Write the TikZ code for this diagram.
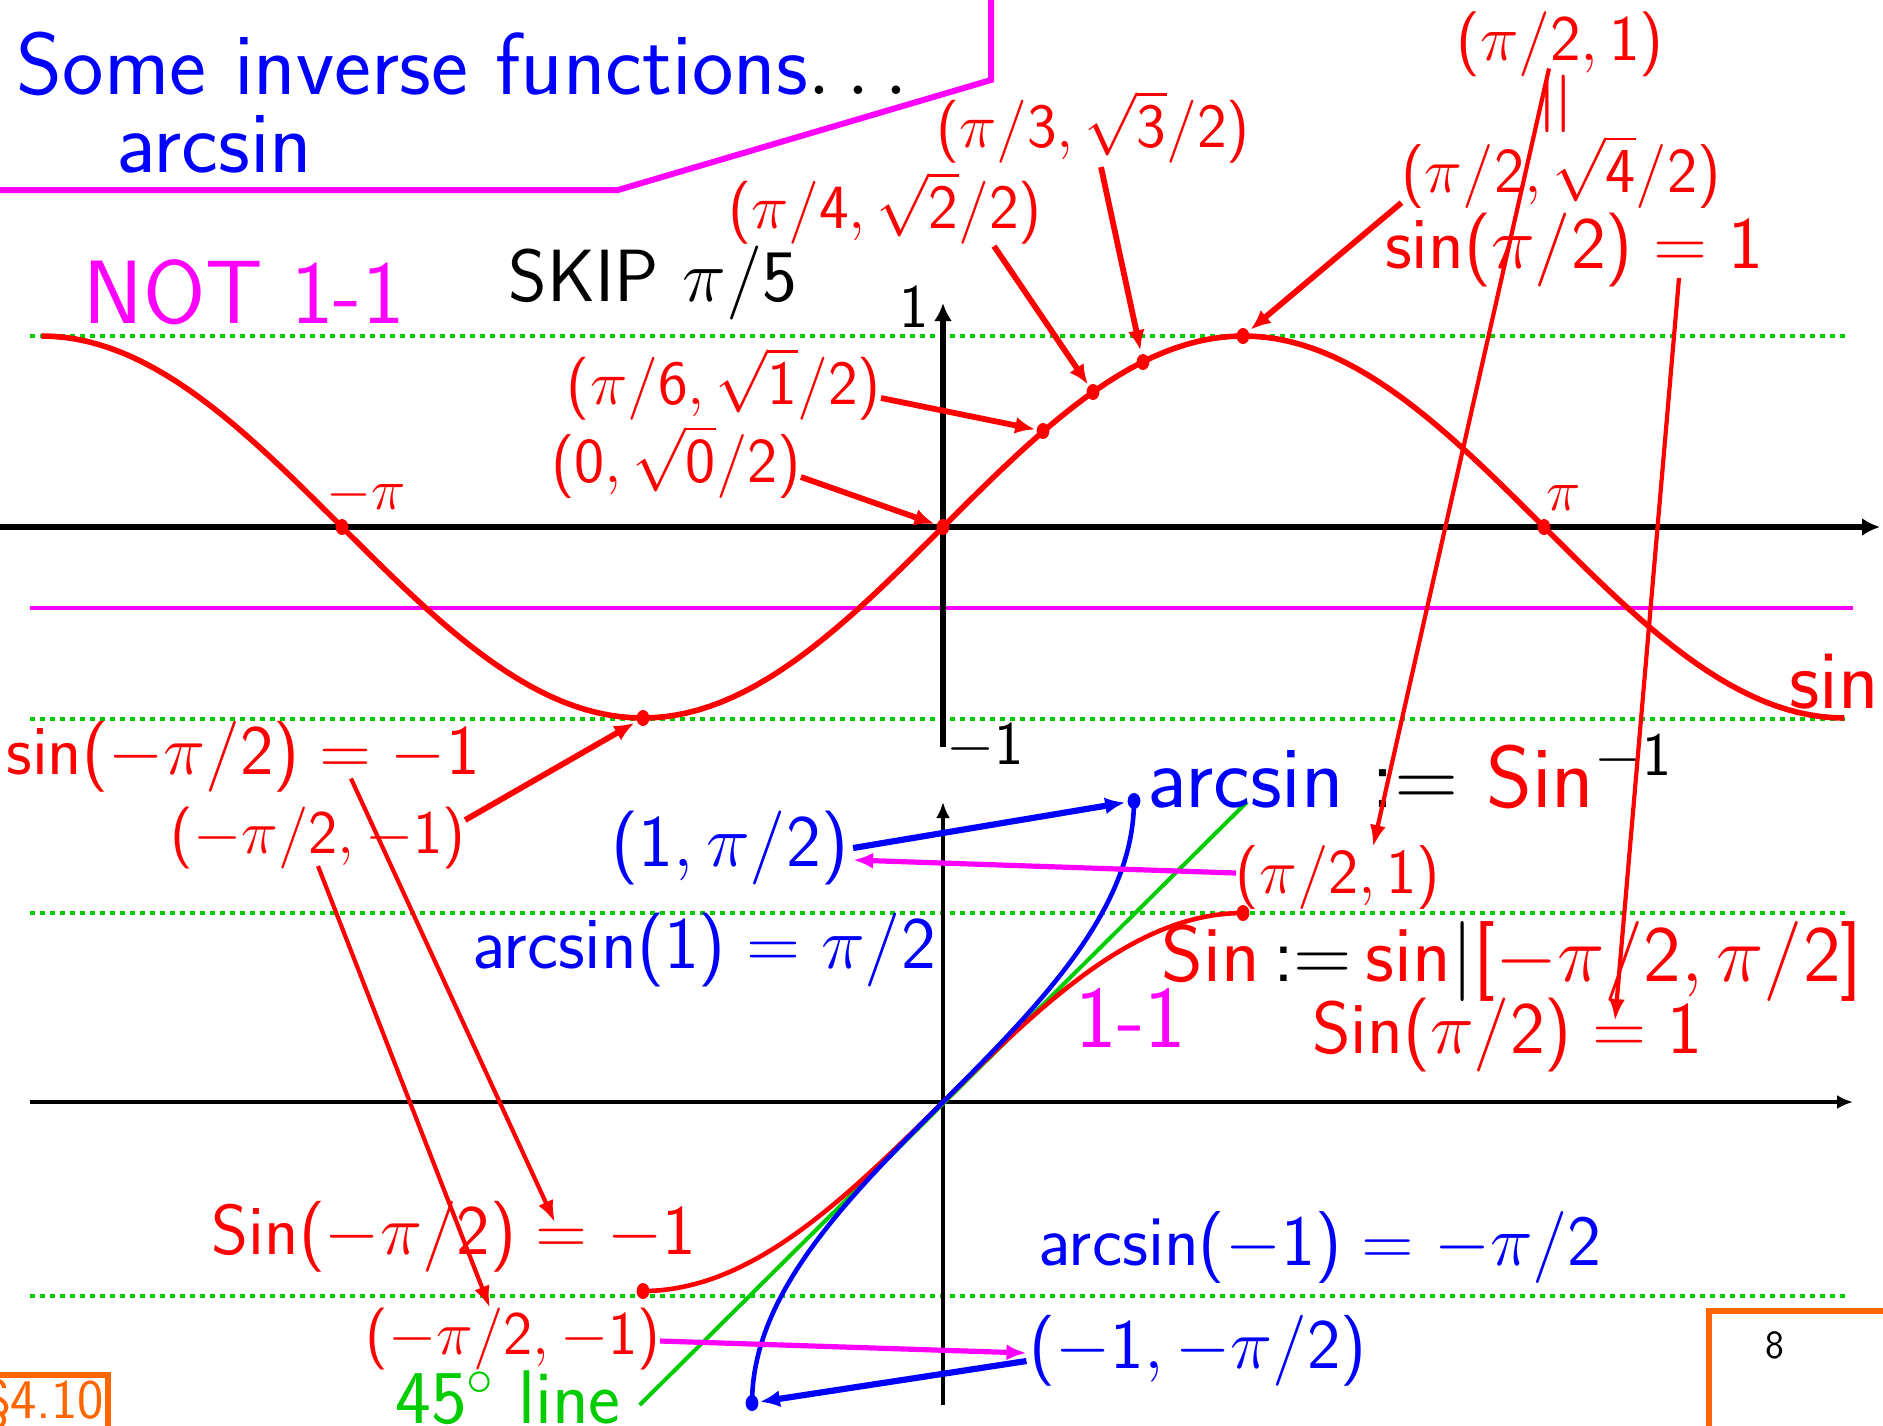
\RequirePackage{fix-cm}
\documentclass[tikz,border=0pt]{standalone}
\usetikzlibrary{arrows.meta}
\SetSymbolFont{operators}{normal}{OT1}{cmss}{m}{n}
\renewcommand{\familydefault}{\sfdefault}
\definecolor{pr}{RGB}{255,0,0}
\definecolor{pb}{RGB}{0,0,255}
\definecolor{pmag}{RGB}{255,0,255}
\definecolor{pg}{RGB}{0,204,0}
\definecolor{po}{RGB}{255,102,0}
\newcommand{\myfs}[1]{\fontsize{#1}{#1}\selectfont}
\tikzset{
  txt/.style={inner sep=0pt, outer sep=0pt},
  dotl/.style={draw=pg, line width=2.4pt, dash pattern=on 2.6pt off 2.4pt},
  axisA/.style={line width=2.8pt, -{Latex[length=9pt,width=9pt]}},
  axisB/.style={line width=2pt, -{Latex[length=8pt,width=7pt]}},
  rarr/.style={draw=pr, line width=2.9pt, -{Latex[length=10pt,width=8.5pt]}},
  rlong/.style={draw=pr, line width=2.1pt, -{Latex[length=11pt,width=8pt]}},
  barr/.style={draw=pb, line width=3.1pt, -{Latex[length=10pt,width=8.5pt]}},
  marr/.style={draw=pmag, line width=2.6pt, -{Latex[length=10pt,width=8pt]}},
  rdot/.style={fill=pr},
  bdot/.style={fill=pb},
}
\begin{document}
\begin{tikzpicture}[x=0.5pt,y=-0.5pt]
\useasboundingbox (0,0) rectangle (1883,1425);

% ---------- title frame ----------
\draw[pmag, line width=3pt] (0,190) -- (618,190) -- (991,80) -- (991,-5);
\node[txt, anchor=west, text=pb, font=\myfs{44}] (t1) at (17,64) {Some inverse functions\textcolor{black}{$\ldots$}};
\node[txt, anchor=west, text=pb, font=\myfs{44}] (t2) at (116,144) {arcsin};

% ---------- upper graph ----------
\draw[dotl] (30,336) -- (1849,336);
\draw[dotl] (30,719) -- (1849,719);
\draw[pmag, line width=2.2pt] (30,608) -- (1853,608);
\draw[axisA] (0,527) -- (1880,527);
\draw[axisA] (943,747) -- (943,303);
\draw[pr, line width=2.8pt] plot[domain=-4.7124:4.7124, samples=160] ({943+191.3*\x},{527-191*sin(\x r)});

\coordinate (dmp) at (342,527);
\coordinate (d0) at (943,527);
\coordinate (d16) at (1043,431);
\coordinate (d14) at (1093,392);
\coordinate (d13) at (1143,362);
\coordinate (d12) at (1243,336);
\coordinate (dpp) at (1544,527);
\coordinate (dm) at (643,718);
\foreach \p in {dmp,d0,d16,d14,d13,d12,dpp,dm} \fill[rdot] (\p) ellipse [x radius=3.2pt, y radius=4pt];

\node[txt, text=pmag, font=\myfs{45}] (notl) at (244,292) {NOT 1-1};
\node[txt, font=\myfs{37}] (skip) at (653,283) {SKIP $\pi/5$};
\node[txt, font=\myfs{31}] (one) at (914,307) {$1$};
\node[txt, font=\myfs{31}] (mone) at (985,747) {$-1$};
\node[txt, text=pr, font=\myfs{29}] (mpi) at (366,495) {$-\pi$};
\node[txt, text=pr, font=\myfs{29}] (ppi) at (1564,498) {$\pi$};
\node[txt, text=pr, font=\myfs{42}] (sinl) at (1834,682) {sin};

\node[txt, text=pr, font=\myfs{31.5}] (a16) at (724,384) {$(\pi/6,\sqrt{1}/2)$};
\node[txt, text=pr, font=\myfs{32}] (a0) at (676,462) {$(0,\sqrt{0}/2)$};
\node[txt, text=pr, font=\myfs{31.5}] (a14) at (885,208) {$(\pi/4,\sqrt{2}/2)$};
\node[txt, text=pr, font=\myfs{31.5}] (a13) at (1093,127) {$(\pi/3,\sqrt{3}/2)$};
\node[txt, text=pr, font=\myfs{32.5}] (t21) at (1560,44) {$(\pi/2,1)$};
\node[txt, text=pr, font=\myfs{46}, rotate=90] (eqv) at (1562,104) {$=$};
\node[txt, text=pr, font=\myfs{32}] (a12) at (1561,172) {$(\pi/2,\sqrt{4}/2)$};
\node[txt, text=pr, font=\myfs{37}] (s1) at (1574,250) {sin$(\pi/2)=1$};
\node[txt, text=pr, font=\myfs{35.5}] (sm) at (243,757) {sin$(-\pi/2)=-1$};
\node[txt, text=pr, font=\myfs{31}] (am) at (318,838) {$(-\pi/2,-1)$};

\draw[rarr, shorten >=4pt] ([yshift=-7pt]a16.east) -- (d16);
\draw[rarr, shorten >=4.5pt] ([yshift=-7.5pt]a0.east) -- (d0);
\draw[rarr, shorten >=4.5pt] ([xshift=-24pt,yshift=-1pt]a14.south east) -- (d14);
\draw[rarr, shorten >=6pt] ([xshift=4pt,yshift=-2pt]a13.south) -- (d13);
\draw[rarr, shorten >=5pt] ([yshift=3pt]a12.south west) -- (d12);
\draw[rarr, shorten >=5pt] ([yshift=9pt]am.east) -- (dm);

% ---------- lower graph ----------
\draw[dotl] (30,913) -- (1849,913);
\draw[dotl] (30,1296) -- (1849,1296);
\draw[axisB] (30,1102) -- (1853,1102);
\draw[axisB] (943,1405) -- (943,802);

\node[txt, text=pg, font=\myfs{38}] (g45) at (508,1397) {$45^\circ$ line};
\coordinate (g45end) at (1247,802);
\draw[pg, line width=2pt] ([xshift=9.5pt,yshift=-4pt]g45.east) -- (g45end);

\draw[pr, line width=2.3pt] plot[domain=-1.5708:1.5708, samples=80] ({943+191*\x},{1102-189*sin(\x r)});
\draw[pb, line width=2.3pt] plot[domain=-1.5708:1.5708, samples=80] ({943+191*sin(\x r)},{1102-192*\x});
\coordinate (sl) at (643,1291);
\coordinate (sr) at (1243,913);
\coordinate (bl) at (752,1403);
\coordinate (br) at (1134,801);
\foreach \p in {sl,sr} \fill[rdot] (\p) ellipse [x radius=3.2pt, y radius=4pt];
\foreach \p in {bl,br} \fill[bdot] (\p) ellipse [x radius=3.2pt, y radius=4pt];

\node[txt, font=\myfs{44}] (def) at (1410,772) {\textcolor{pb}{arcsin} $:=$ \textcolor{pr}{Sin}$^{-1}$};
\node[txt, text=pb, font=\myfs{37}] (b1) at (730,848) {$(1,\pi/2)$};
\node[txt, text=pr, font=\myfs{32}] (b21) at (1338,877) {$(\pi/2,1)$};
\node[txt, text=pb, font=\myfs{37}] (ar1) at (704,950) {arcsin$(1)=\pi/2$};
\node[txt, font=\myfs{40}] (sdef) at (1512,961) {\textcolor{pr}{Sin}$\,{:=}\,$\textcolor{pr}{sin}$|$\textcolor{pr}{$[-\pi/2,\pi/2]$}};
\node[txt, text=pr, font=\myfs{37}] (S1) at (1507,1035) {Sin$(\pi/2)=1$};
\node[txt, text=pmag, font=\myfs{44}] (oneone) at (1131,1018) {1-1};
\node[txt, text=pr, font=\myfs{35.5}] (Sm) at (454,1237) {Sin$(-\pi/2)=-1$};
\node[txt, text=pb, font=\myfs{36}] (arm) at (1320,1247) {arcsin$(-1)=-\pi/2$};
\node[txt, text=pr, font=\myfs{31}] (bm) at (513,1339) {$(-\pi/2,-1)$};
\node[txt, text=pb, font=\myfs{35.5}] (c1) at (1198,1351) {$(-1,-\pi/2)$};

\draw[barr, shorten >=4.5pt] ([xshift=2.5pt]b1.east) -- (br);
\draw[marr] ([yshift=2pt]b21.west) -- ([xshift=2.5pt,yshift=-6pt]b1.east);
\draw[marr] ([yshift=-1pt]bm.east) -- ([xshift=-1.5pt,yshift=-1pt]c1.west);
\draw[barr, shorten >=4pt] ([xshift=-1.5pt,yshift=-5pt]c1.west) -- (bl);

% long connectors
\draw[rlong] ([xshift=-5.5pt,yshift=4pt]t21.south) -- ([xshift=17.5pt,yshift=-1pt]b21.north);
\draw[rlong] ([xshift=52.5pt,yshift=4.5pt]s1.south) -- ([xshift=54pt,yshift=-11.5pt]S1.north);
\draw[rlong] ([xshift=54pt,yshift=7pt]sm.south) -- ([xshift=50.5pt,yshift=-10.5pt]Sm.north);
\draw[rlong] ([yshift=1.5pt]am.south) -- ([xshift=-11.5pt]bm.north);

% ---------- corner boxes ----------
\draw[po, line width=3pt] (1709,1430) -- (1709,1311) -- (1890,1311);
\node[txt, font=\myfs{20}] (page) at (1775,1345) {8};
\draw[po, line width=3pt] (-5,1375) -- (108,1375) -- (108,1430);
\node[txt, anchor=east, text=po, font=\myfs{28}] (sec) at (104,1404) {\S4.10};
\end{tikzpicture}
\end{document}
